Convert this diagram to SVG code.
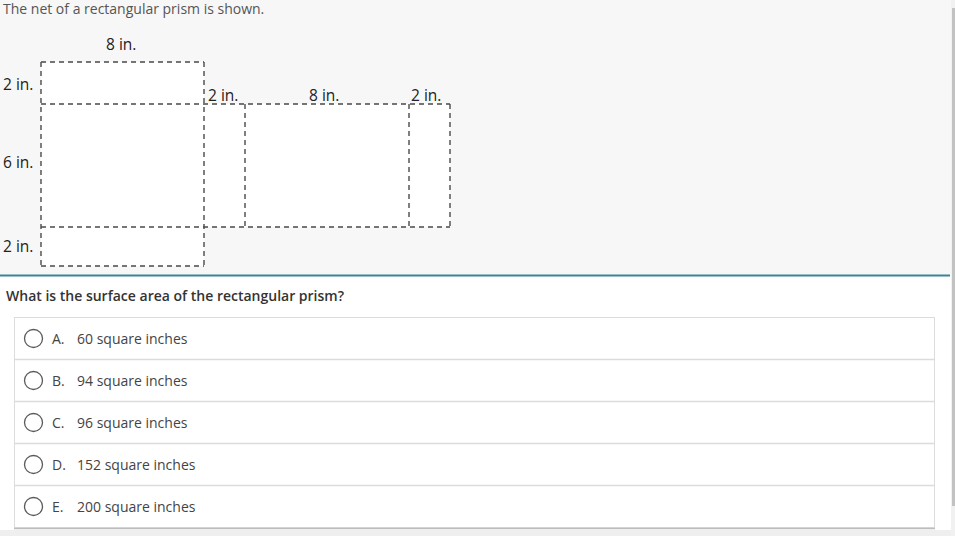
<svg xmlns="http://www.w3.org/2000/svg" width="955" height="536" viewBox="0 0 955 536">
<style>
text{font-family:"Open Sans","Liberation Sans",sans-serif;font-size:14px}
.t{fill:#555}
.lbl{fill:#222;font-size:15.5px}
.face{fill:#fff;stroke:none}
.d{fill:none;stroke:#4a4a4a;stroke-width:1.4;stroke-dasharray:5 4}
.q{fill:#333;font-weight:600}
.opt{fill:#444}
.radio{fill:#fff;stroke:#5a5a5a;stroke-width:1.3}
.sep{stroke:#dcdcdc;stroke-width:1.3}
</style>
<rect x="0" y="0" width="955" height="276" fill="#f7f7f7"/>
<rect x="0" y="276" width="955" height="254" fill="#fff"/>
<rect x="0" y="530" width="955" height="6" fill="#efefef"/>
<rect x="951" y="0" width="4" height="536" fill="#f1f1f1"/>
<rect x="952" y="8" width="3" height="498" fill="#c2c2c2"/>
<text class="t" x="3" y="14">The net of a rectangular prism is shown.</text>
<g id="net">
<g id="faces">
<rect class="face" x="41" y="62" width="163" height="42"/>
<rect class="face" x="41" y="104" width="409" height="123"/>
<rect class="face" x="41" y="227" width="163" height="39"/>
</g>
<g id="connectors">
<path class="d" d="M41 62H204M41 104H450M41 227H450M41 266H204"/>
<path class="d" d="M41 62V266M204 62V266M245 104V227M409 104V227M450 104V227"/>
</g>
<g id="labels">
<text class="lbl" x="106" y="50">8 in.</text>
<text class="lbl" x="3" y="90">2 in.</text>
<text class="lbl" x="3" y="168">6 in.</text>
<text class="lbl" x="3" y="252">2 in.</text>
<text class="lbl" x="208" y="101">2 in.</text>
<text class="lbl" x="309" y="101">8 in.</text>
<text class="lbl" x="411" y="101">2 in.</text>
</g>
</g>
<line x1="0" y1="275.5" x2="950" y2="275.5" stroke="#3b8593" stroke-width="2"/>
<text class="q" x="6" y="301">What is the surface area of the rectangular prism?</text>
<g id="options">
<rect x="14.5" y="317.5" width="920" height="210" fill="#fff" stroke="#dcdcdc"/>
<line x1="14" y1="528.5" x2="935" y2="528.5" stroke="#bdbdbd" stroke-width="1.5"/>
<line class="sep" x1="15" y1="359.5" x2="934" y2="359.5"/>
<line class="sep" x1="15" y1="401.5" x2="934" y2="401.5"/>
<line class="sep" x1="15" y1="443.5" x2="934" y2="443.5"/>
<line class="sep" x1="15" y1="485.5" x2="934" y2="485.5"/>
<g id="optA"><circle class="radio" cx="33.5" cy="338.5" r="9"/><text class="opt" x="52" y="344">A.</text><text class="opt" x="77" y="344">60 square inches</text></g>
<g id="optB"><circle class="radio" cx="33.5" cy="380.5" r="9"/><text class="opt" x="52" y="386">B.</text><text class="opt" x="77" y="386">94 square inches</text></g>
<g id="optC"><circle class="radio" cx="33.5" cy="422.5" r="9"/><text class="opt" x="52" y="428">C.</text><text class="opt" x="77" y="428">96 square inches</text></g>
<g id="optD"><circle class="radio" cx="33.5" cy="464.5" r="9"/><text class="opt" x="52" y="470">D.</text><text class="opt" x="77" y="470">152 square inches</text></g>
<g id="optE"><circle class="radio" cx="33.5" cy="506.5" r="9"/><text class="opt" x="52" y="512">E.</text><text class="opt" x="77" y="512">200 square inches</text></g>
</g>
</svg>
